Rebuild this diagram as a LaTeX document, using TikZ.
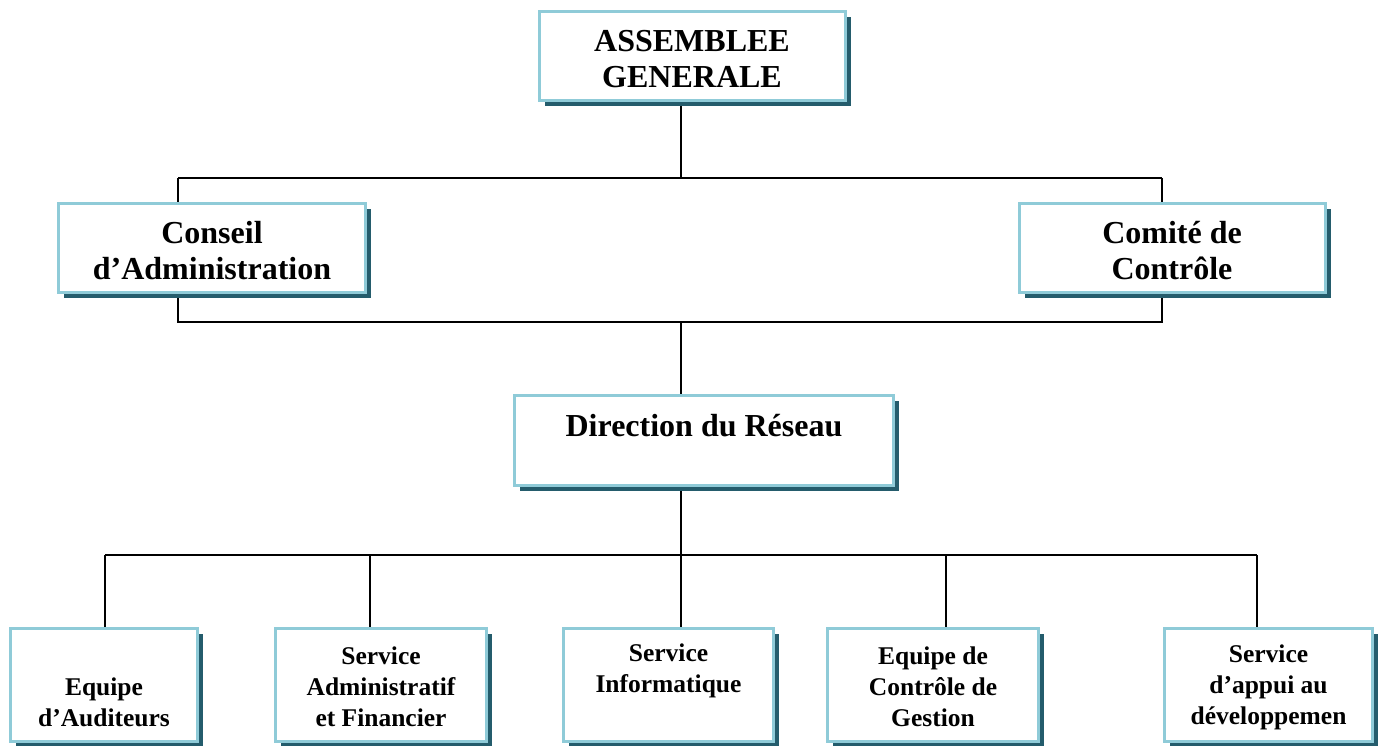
\documentclass[tikz,border=0pt]{standalone}
\usepackage{fontspec}
\setmainfont{Liberation Serif}
\usetikzlibrary{shadows}
\definecolor{boxborder}{RGB}{143,203,216}
\definecolor{boxshadow}{RGB}{36,92,108}
\begin{document}
\begin{tikzpicture}[x=1pt,y=-1pt,
  orgbox/.style={draw=boxborder,line width=3pt,fill=white,inner sep=0pt,
    drop shadow={shadow xshift=5pt,shadow yshift=-5pt,fill=boxshadow,opacity=1}},
  bigtxt/.style={align=center,inner sep=0pt,font=\bfseries\fontsize{32}{36}\selectfont},
  smalltxt/.style={align=center,inner sep=0pt,font=\bfseries\fontsize{25.5}{31}\selectfont},
  link/.style={draw=black,line width=1.6pt}]
\useasboundingbox (0,0) rectangle (1383,745);
% junction coordinates
\coordinate (jTop) at (681,178);
\coordinate (jTopL) at (178,178);
\coordinate (jTopR) at (1162,178);
\coordinate (jMid) at (681,322);
\coordinate (jMidL) at (178,322);
\coordinate (jMidR) at (1162,322);
\coordinate (jBot) at (681,555);
\coordinate (jB1) at (105,555);
\coordinate (jB2) at (370,555);
\coordinate (jB4) at (946,555);
\coordinate (jB5) at (1257,555);
% connectors (drawn first, boxes cover them)
\path[link] (681,102) coordinate (agS) -- (jTop);
\path[link] (jTopL) -- (jTopR);
\path[link] (jTopL) -- (178,202) coordinate (caN);
\path[link] (jTopR) -- (1162,202) coordinate (ccN);
\path[link] (178,294) coordinate (caS) -- (jMidL) -- (jMidR) -- (1162,294) coordinate (ccS);
\path[link] (jMid) -- (681,394) coordinate (drN);
\path[link] (681,487) coordinate (drS) -- (jBot);
\path[link] (jB1) -- (jB5);
\path[link] (jB1) -- (105,627) coordinate (b1N);
\path[link] (jB2) -- (370,627) coordinate (b2N);
\path[link] (jBot) -- (681,627) coordinate (b3N);
\path[link] (jB4) -- (946,627) coordinate (b4N);
\path[link] (jB5) -- (1257,627) coordinate (b5N);
% boxes
\node[orgbox,minimum width=306pt,minimum height=89pt] (AG) at (692.5,56) {};
\node[orgbox,minimum width=307pt,minimum height=89pt] (CA) at (212,248) {};
\node[orgbox,minimum width=306pt,minimum height=89pt] (CC) at (1172.5,248) {};
\node[orgbox,minimum width=379pt,minimum height=90pt] (DR) at (704,440.5) {};
\node[orgbox,minimum width=187pt,minimum height=113pt] (B1) at (104,685) {};
\node[orgbox,minimum width=211pt,minimum height=113pt] (B2) at (381,685) {};
\node[orgbox,minimum width=210pt,minimum height=113pt] (B3) at (668.5,685) {};
\node[orgbox,minimum width=211pt,minimum height=113pt] (B4) at (933,685) {};
\node[orgbox,minimum width=208pt,minimum height=113pt] (B5) at (1268.5,685) {};
% texts
\node[bigtxt] (AGt) at (692,59) {ASSEMBLEE\\GENERALE};
\node[bigtxt] (CAt) at (212,251) {Conseil\\d’Administration};
\node[bigtxt] (CCt) at (1172,251) {Comité de\\Contrôle};
\node[bigtxt] (DRt) at (704,426) {Direction du Réseau};
\node[smalltxt] (B1t) at (104,702) {Equipe\\d’Auditeurs};
\node[smalltxt] (B2t) at (381,687) {Service\\Administratif\\et Financier};
\node[smalltxt] (B3t) at (668.5,671) {Service\\Informatique};
\node[smalltxt] (B4t) at (933,687) {Equipe de\\Contrôle de\\Gestion};
\node[smalltxt] (B5t) at (1268.5,687) {Service\\d’appui au\\développemen};
\end{tikzpicture}
\end{document}
